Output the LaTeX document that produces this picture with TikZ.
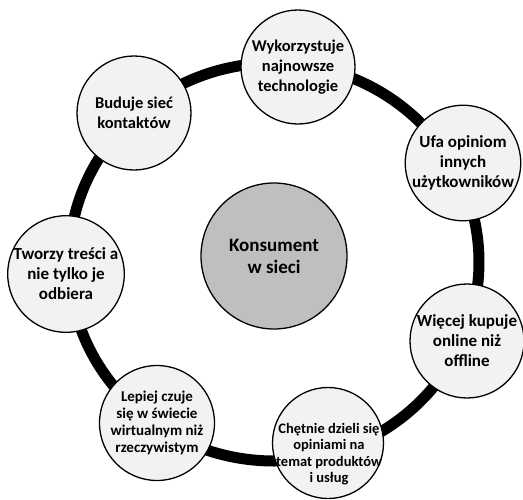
\documentclass[tikz,border=0pt]{standalone}
\usepackage{fontspec}
\setmainfont{Carlito}
\begin{document}
\begin{tikzpicture}[x=1pt,y=-1pt,
  sat/.style={circle,draw=black,line width=1.3pt,fill=satfill,minimum size=#1,inner sep=0pt,align=center,
    font=\bfseries\fontsize{17}{20}\selectfont},
  small/.style={font=\bfseries\fontsize{15}{17}\selectfont},
  satlabel/.style={inner sep=0pt,align=center,font=\bfseries\fontsize{14.5}{16.5}\selectfont},
  hub/.style={circle,draw=black,line width=1.3pt,fill=hubfill,minimum size=146pt,inner sep=0pt,align=center,
    font=\bfseries\fontsize{19}{22}\selectfont},
  ring/.style={line width=11pt,black}]
\definecolor{satfill}{HTML}{F2F2F2}
\definecolor{hubfill}{HTML}{BFBFBF}
\useasboundingbox (0,0) rectangle (523,499);
\coordinate (rc) at (274,262);
\draw[ring] (rc) ellipse [x radius=205pt, y radius=199pt];
\node[hub] (hub) at (274,256) {Konsument\\w sieci};
\node[sat=114pt,font=\bfseries\fontsize{16.5}{20}\selectfont] (n1) at (298,67) {Wykorzystuje\\najnowsze\\technologie};
\node[sat=115pt] (n2) at (463,163) {Ufa opiniom\\innych\\użytkowników};
\node[sat=114pt] (n3) at (467,341) {Więcej kupuje\\online niż\\offline};
\node[sat=111pt] (n4) at (328,443) {};
\node[satlabel] (n4t) at (329,454) {Chętnie dzieli się\\opiniami na\\temat produktów\\i usług};
\node[sat=115pt,small] (n5) at (157,423) {Lepiej czuje\\się w świecie\\wirtualnym niż\\rzeczywistym};
\node[sat=116pt] (n6) at (66,274) {Tworzy treści a\\nie tylko je\\odbiera};
\node[sat=114pt,font=\bfseries\fontsize{16.5}{20}\selectfont] (n7) at (134,113) {Buduje sieć\\kontaktów};
\end{tikzpicture}
\end{document}
